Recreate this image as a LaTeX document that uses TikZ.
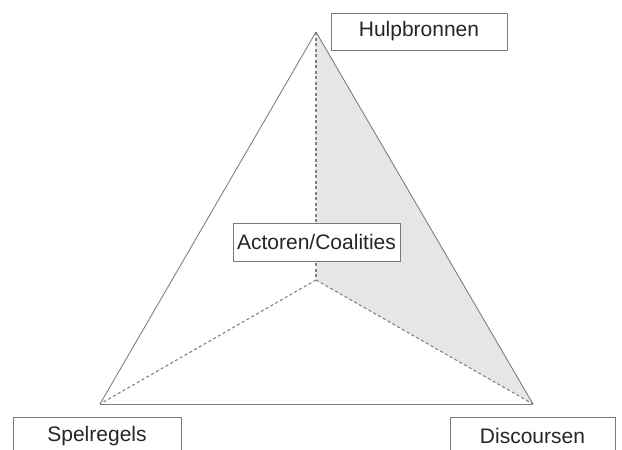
\documentclass[tikz,border=0pt]{standalone}
\usepackage{fontspec}
\setmainfont{Liberation Sans}
\usetikzlibrary{positioning}
\definecolor{linegray}{HTML}{808080}
\definecolor{boxgray}{HTML}{7A7A7A}
\definecolor{shadegray}{HTML}{E6E6E6}
\definecolor{textgray}{HTML}{262626}
\tikzstyle{side_solid}=[draw=linegray, line width=0.9pt]
\tikzstyle{side_dashed}=[draw=linegray, line width=1.1pt, dash pattern=on 3pt off 2.5pt]
\tikzstyle{name_box}=[rectangle, draw=boxgray, fill=white, line width=0.9pt, inner sep=0pt,
    text=textgray, font=\fontsize{21}{25}\selectfont]

\begin{document}
\begin{tikzpicture}[x=1pt, y=-1pt]
          \useasboundingbox (0,0) rectangle (622,450);
          \coordinate (top) at (316,32);
          \coordinate (left) at (100,404);
          \coordinate (right) at (533,404);
          \coordinate (mid) at (316,280);
          \fill[shadegray] (top) -- (right) -- (mid) -- cycle;
          \draw[side_solid] (top) -- (left);
          \draw[side_solid] (top) -- (right);
          \draw[side_solid] (left) -- (right);
          \draw[side_dashed] (top) -- (mid);
          \draw[side_dashed] (mid) -- (left);
          \draw[side_dashed] (mid) -- (right);
          \node[name_box, minimum width=176, minimum height=37] (hulpbronnen) at (419,31.5){Hulpbronnen};
          \node[name_box, minimum width=167, minimum height=38] (actoren) at (316.5,242){Actoren/Coalities};
          \node[name_box, minimum width=168, minimum height=38] (spelregels) at (97,436){Spelregels};
          \node[name_box, minimum width=165, minimum height=38] (discoursen) at (532.5,436){Discoursen};
        \end{tikzpicture}
\end{document}
